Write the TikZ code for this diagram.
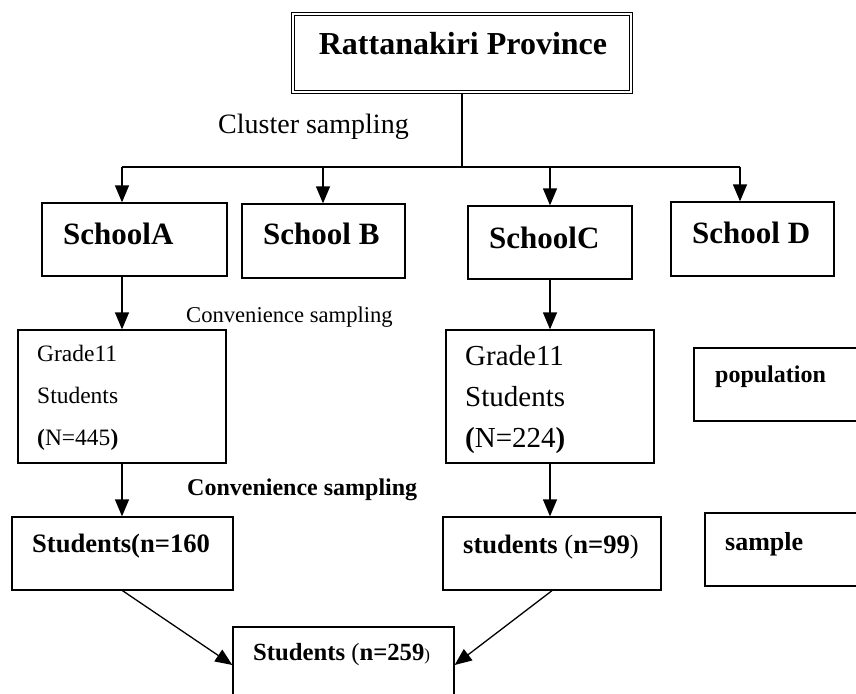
\documentclass[tikz,border=0pt]{standalone}
\usepackage{fontspec}
\setmainfont{Liberation Serif}
\usetikzlibrary{arrows.meta}

\begin{document}
\begin{tikzpicture}[x=1pt, y=-1pt, >={Triangle[length=17pt,width=14pt]},
  box/.style={draw, line width=1.3pt, inner sep=0pt},
  lbl/.style={anchor=base west, inner sep=0pt, align=left},
  link/.style={->, line width=1.3pt}]
\clip (0,0) rectangle (856,693);
\fill[white] (0,0) rectangle (856,693);

% boxes
\node[box, double, double distance=2pt, line width=1.1pt, minimum width=338pt, minimum height=78pt] (prov) at (462,53) {};
\node[box, minimum width=185pt, minimum height=73pt] (schA) at (134.5,239.5) {};
\node[box, minimum width=163pt, minimum height=74pt] (schB) at (323.5,241) {};
\node[box, minimum width=164pt, minimum height=73pt] (schC) at (550,242.5) {};
\node[box, minimum width=163pt, minimum height=74pt] (schD) at (752.5,239) {};
\node[box, minimum width=208pt, minimum height=133pt] (grA) at (122,396.5) {};
\node[box, minimum width=208pt, minimum height=133pt] (grC) at (550,396.5) {};
\node[box, minimum width=186pt, minimum height=73pt] (pop) at (787,384.5) {};
\node[box, minimum width=221pt, minimum height=73pt] (stA) at (122.5,553.5) {};
\node[box, minimum width=218pt, minimum height=73pt] (stC) at (552,553.5) {};
\node[box, minimum width=185pt, minimum height=73pt] (smp) at (797.5,549.5) {};
\node[box, minimum width=221pt, minimum height=76pt] (tot) at (343.5,665) {};

% texts
\node[lbl, anchor=base, font=\bfseries\fontsize{32}{32}\selectfont] (provT) at (463,55) {Rattanakiri Province};
\node[lbl, font=\fontsize{28}{28}\selectfont] (clusT) at (218,133) {Cluster sampling};
\node[lbl, font=\bfseries\fontsize{31}{31}\selectfont] (schAT) at (63,244) {SchoolA};
\node[lbl, font=\bfseries\fontsize{31}{31}\selectfont] (schBT) at (263,244) {School B};
\node[lbl, font=\bfseries\fontsize{31}{31}\selectfont] (schCT) at (489,248) {SchoolC};
\node[lbl, font=\bfseries\fontsize{31}{31}\selectfont] (schDT) at (692,243) {School D};
\node[lbl, font=\fontsize{22.6}{22.6}\selectfont] (convT) at (186,322) {Convenience sampling};
\node[lbl, font=\fontsize{23.5}{42}\selectfont] (grAT) at (37,445) {Grade11\\Students\\\textbf{(}N=445\textbf{)}};
\node[lbl, font=\fontsize{29}{41}\selectfont] (grCT) at (465,447) {Grade11\\Students\\\textbf{(}N=224\textbf{)}};
\node[lbl, font=\bfseries\fontsize{24}{24}\selectfont] (popT) at (715,382) {population};
\node[lbl, font=\bfseries\fontsize{24}{24}\selectfont] (convBT) at (187,495) {Convenience sampling};
\node[lbl, font=\bfseries\fontsize{26.6}{26.6}\selectfont] (stAT) at (32,552) {Students(n=160};
\node[lbl, font=\bfseries\fontsize{26.6}{26.6}\selectfont] (stCT) at (463,553) {students \textmd{(}n=99\textmd{)}};
\node[lbl, font=\bfseries\fontsize{26}{26}\selectfont] (smpT) at (725,550) {sample};
\node[lbl, font=\bfseries\fontsize{24.7}{24.7}\selectfont] (totT) at (253,660) {Students \textmd{(}n=259{\fontsize{17}{17}\selectfont\textmd{)}}};

% connectors
\coordinate (busA) at (122,167);
\coordinate (busB) at (323,167);
\coordinate (busC) at (550,167);
\coordinate (busD) at (740,167);
\draw[line width=1.3pt] (prov.south) -- (prov.south |- busA);
\draw[line width=1.3pt] (busA) -- (busD);
\foreach \c/\s in {busA/schA, busB/schB, busC/schC, busD/schD}
  \draw[link] (\c) -- (\c |- \s.north);
\draw[link] (grA.north |- schA.south) -- (grA.north);
\draw[link] (schC.south) -- (schC.south |- grC.north);
\draw[link] (grA.south) -- (grA.south |- stA.north);
\draw[link] (grC.south) -- (grC.south |- stC.north);
\draw[link] (stA.south) -- (tot.west);
\draw[link] (stC.south) -- (tot.east);
\end{tikzpicture}
\end{document}
